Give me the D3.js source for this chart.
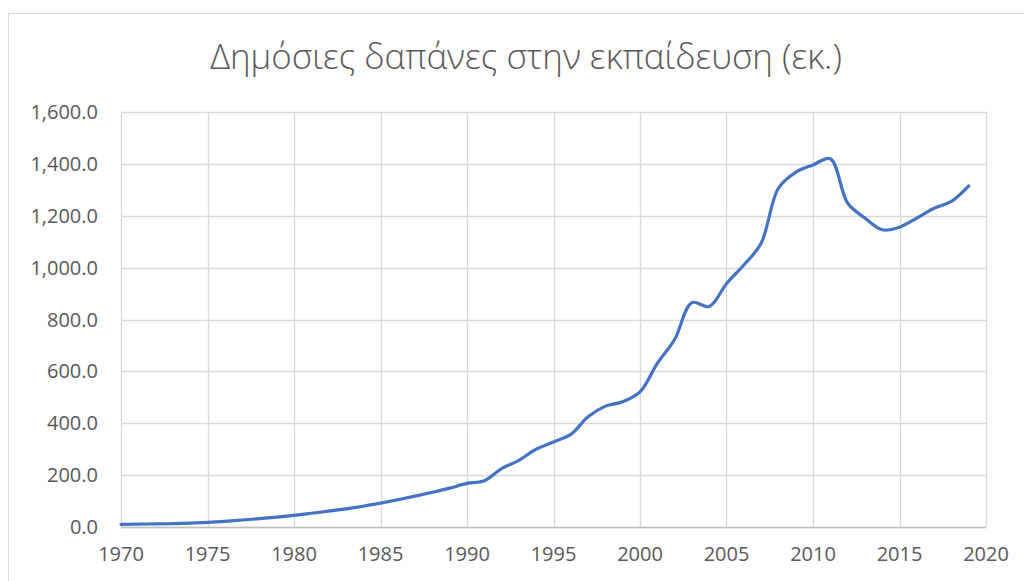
<!DOCTYPE html>
<html>
<head>
<meta charset="utf-8">
<script src="https://cdn.jsdelivr.net/npm/d3@7"></script>
<style>
  body { margin: 0; background: #fff; }
  svg { display: block; }
</style>
</head>
<body>
<div id="chart"></div>
<script>
const title = 'Δημόσιες δαπάνες στην εκπαίδευση (εκ.)';
const years = d3.range(1970, 2020);
const spending = [
  10, 11, 12, 13, 15, 18, 22, 27, 32, 38,
  45, 53, 61, 70, 80, 92, 105, 119, 134, 150,
  168, 178, 225, 257, 300, 328, 357, 425, 466, 483,
  521, 631, 723, 865, 850, 938, 1010, 1094, 1306, 1367,
  1396, 1420, 1249, 1191, 1146, 1156, 1191, 1229, 1255, 1315
];
const yTicks = [0, 200, 400, 600, 800, 1000, 1200, 1400, 1600];
const xTicks = d3.range(1970, 2021, 5);

const width = 1024, height = 581;
const margin = { top: 112, right: 38, bottom: 54, left: 121 };

const svg = d3.select('#chart').append('svg')
  .attr('width', width).attr('height', height);

// chart area border
svg.append('rect')
  .attr('x', 8.5).attr('y', 13.5)
  .attr('width', width + 20).attr('height', height + 20)
  .attr('fill', 'none').attr('stroke', '#d9d9d9');

const x = d3.scaleLinear().domain([1970, 2020]).range([margin.left, width - margin.right]);
const y = d3.scaleLinear().domain([0, 1600]).range([height - margin.bottom, margin.top]);

// gridlines
svg.append('g').selectAll('line.h').data(yTicks).join('line')
  .attr('x1', x(1970)).attr('x2', x(2020))
  .attr('y1', d => Math.round(y(d)) + 0.5).attr('y2', d => Math.round(y(d)) + 0.5)
  .attr('stroke', '#d9d9d9').attr('stroke-width', 1.3);

svg.append('g').selectAll('line.v').data(xTicks).join('line')
  .attr('x1', d => Math.round(x(d)) + 0.5).attr('x2', d => Math.round(x(d)) + 0.5)
  .attr('y1', y(1600)).attr('y2', y(0))
  .attr('stroke', '#d9d9d9').attr('stroke-width', 1.3);

// bottom axis line
svg.append('line')
  .attr('x1', x(1970)).attr('x2', x(2020))
  .attr('y1', Math.round(y(0)) + 0.5).attr('y2', Math.round(y(0)) + 0.5)
  .attr('stroke', '#bfbfbf').attr('stroke-width', 1.3);

const font = '"Open Sans", "Noto Sans", sans-serif';
const fmt = d3.format(',.1f');

svg.append('g').selectAll('text').data(yTicks).join('text')
  .attr('x', 98).attr('y', d => y(d) + 7)
  .attr('text-anchor', 'end')
  .attr('font-family', font).attr('font-size', 20).attr('fill', '#595959')
  .text(d => fmt(d));

svg.append('g').selectAll('text').data(xTicks).join('text')
  .attr('x', d => x(d)).attr('y', 561)
  .attr('text-anchor', 'middle')
  .attr('font-family', font).attr('font-size', 20).attr('fill', '#595959')
  .text(d => d);

// line
const line = d3.line()
  .x((d, i) => x(years[i]))
  .y(d => y(d))
  .curve(d3.curveCatmullRom.alpha(0.5));

svg.append('path')
  .datum(spending)
  .attr('d', line)
  .attr('fill', 'none')
  .attr('stroke', '#4472c4')
  .attr('stroke-width', 3.2)
  .attr('stroke-linecap', 'round')
  .attr('stroke-linejoin', 'round');

// title, fitted to the reference width
const t = svg.append('text')
  .attr('x', 526).attr('y', 69)
  .attr('text-anchor', 'middle')
  .attr('font-family', font).attr('font-weight', 300)
  .attr('font-size', 28).attr('fill', '#595959')
  .text(title);
const w = t.node().getComputedTextLength();
t.attr('font-size', 28 * 632 / w);
</script>
</body>
</html>
